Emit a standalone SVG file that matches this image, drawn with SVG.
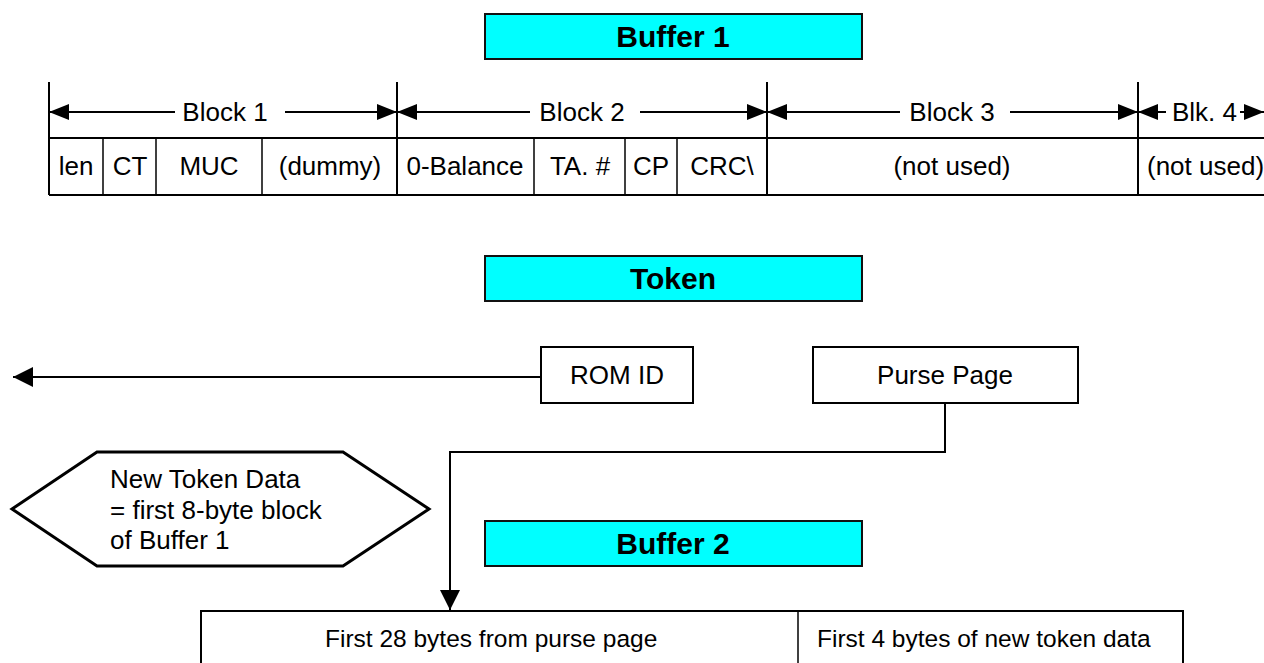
<svg xmlns="http://www.w3.org/2000/svg" width="1264" height="663" viewBox="0 0 1264 663">
<defs>
<style>
.t{font-family:"Liberation Sans",Arial,sans-serif;font-size:26px;fill:#000}
.tb{font-family:"Liberation Sans",Arial,sans-serif;font-size:30px;font-weight:bold;fill:#000;text-anchor:middle}
.m{text-anchor:middle}
.ln{stroke:#000;stroke-width:2;fill:none}
.thin{stroke:#000;stroke-width:1.5;fill:none}
.cy{fill:#00FFFF;stroke:#111;stroke-width:2}
.box{fill:#fff;stroke:#000;stroke-width:2}
.bt{font-family:"Liberation Sans",Arial,sans-serif;font-size:24.5px;fill:#000}
</style>
<marker id="ah" markerUnits="userSpaceOnUse" markerWidth="20" markerHeight="20" refX="20" refY="10" orient="auto"><path d="M0,0 L20,10 L0,20 z" fill="#000"/></marker>
<marker id="ahs" markerUnits="userSpaceOnUse" markerWidth="20" markerHeight="16" refX="20" refY="8" orient="auto"><path d="M0,0 L20,8 L0,16 z" fill="#000"/></marker>
</defs>
<rect width="1264" height="663" fill="#fff"/>

<g id="buffer1-title"><rect class="cy" x="485" y="14" width="377" height="45"/><text class="tb" x="673" y="47">Buffer 1</text></g>

<g id="buffer1-table">
<line class="ln" x1="49" y1="138" x2="1264" y2="138"/>
<line class="ln" x1="49" y1="195" x2="1264" y2="195"/>
<line class="ln" x1="49" y1="82" x2="49" y2="195"/>
<line class="ln" x1="397" y1="82" x2="397" y2="195"/>
<line class="ln" x1="767" y1="82" x2="767" y2="195"/>
<line class="ln" x1="1138" y1="82" x2="1138" y2="195"/>
<line class="thin" x1="103" y1="138" x2="103" y2="195"/>
<line class="thin" x1="156" y1="138" x2="156" y2="195"/>
<line class="thin" x1="262" y1="138" x2="262" y2="195"/>
<line class="thin" x1="534" y1="138" x2="534" y2="195"/>
<line class="thin" x1="625" y1="138" x2="625" y2="195"/>
<line class="thin" x1="677" y1="138" x2="677" y2="195"/>
<text class="t m" x="76" y="175">len</text>
<text class="t m" x="130" y="175">CT</text>
<text class="t m" x="209" y="175">MUC</text>
<text class="t m" x="330" y="175">(dummy)</text>
<text class="t m" x="465" y="175">0-Balance</text>
<text class="t m" x="580" y="175">TA. #</text>
<text class="t m" x="651" y="175">CP</text>
<text class="t m" x="722" y="175">CRC\</text>
<text class="t m" x="952" y="175">(not used)</text>
<text class="t" x="1147" y="175">(not used)</text>
</g>

<g id="block-labels">
<text class="t m" x="225" y="121">Block 1</text>
<text class="t m" x="582" y="121">Block 2</text>
<text class="t m" x="952" y="121">Block 3</text>
<text class="t" x="1172" y="121">Blk. 4</text>
</g>

<g id="token-title"><rect class="cy" x="485" y="256" width="377" height="45"/><text class="tb" x="673" y="289">Token</text></g>

<g id="rom-id"><rect class="box" x="541" y="347" width="152" height="56"/><text class="t m" x="617" y="384">ROM ID</text></g>

<g id="purse-page"><rect class="box" x="813" y="347" width="265" height="56"/><text class="t m" x="945" y="384">Purse Page</text></g>

<g id="new-token-data">
<polygon points="12,509 97,452 343,452 429,509 343,566 97,566" fill="#fff" stroke="#000" stroke-width="3"/>
<text class="t" x="110" y="488">New Token Data</text>
<text class="t" x="110" y="519">= first 8-byte block</text>
<text class="t" x="110" y="549">of Buffer 1</text>
</g>

<g id="buffer2-title"><rect class="cy" x="485" y="521" width="377" height="45"/><text class="tb" x="673" y="554">Buffer 2</text></g>

<g id="buffer2-table">
<rect class="box" x="201" y="611" width="982" height="80"/>
<line class="thin" x1="798" y1="611" x2="798" y2="663"/>
<text class="bt" x="325" y="647">First 28 bytes from purse page</text>
<text class="bt" x="817" y="647">First 4 bytes of new token data</text>
</g>

<g id="connectors">
<line class="ln" x1="175" y1="112" x2="49" y2="112" marker-end="url(#ahs)"/>
<line class="ln" x1="285" y1="112" x2="397" y2="112" marker-end="url(#ahs)"/>
<line class="ln" x1="530" y1="112" x2="397" y2="112" marker-end="url(#ahs)"/>
<line class="ln" x1="640" y1="112" x2="767" y2="112" marker-end="url(#ahs)"/>
<line class="ln" x1="900" y1="112" x2="767" y2="112" marker-end="url(#ahs)"/>
<line class="ln" x1="1010" y1="112" x2="1138" y2="112" marker-end="url(#ahs)"/>
<line class="ln" x1="1166" y1="112" x2="1138" y2="112" marker-end="url(#ahs)"/>
<line class="ln" x1="1240" y1="112" x2="1264" y2="112" marker-end="url(#ahs)"/>
<line class="ln" x1="541" y1="377" x2="13" y2="377" marker-end="url(#ah)"/>
<polyline class="ln" points="945,403 945,452 450,452 450,610" marker-end="url(#ah)"/>
</g>
</svg>
